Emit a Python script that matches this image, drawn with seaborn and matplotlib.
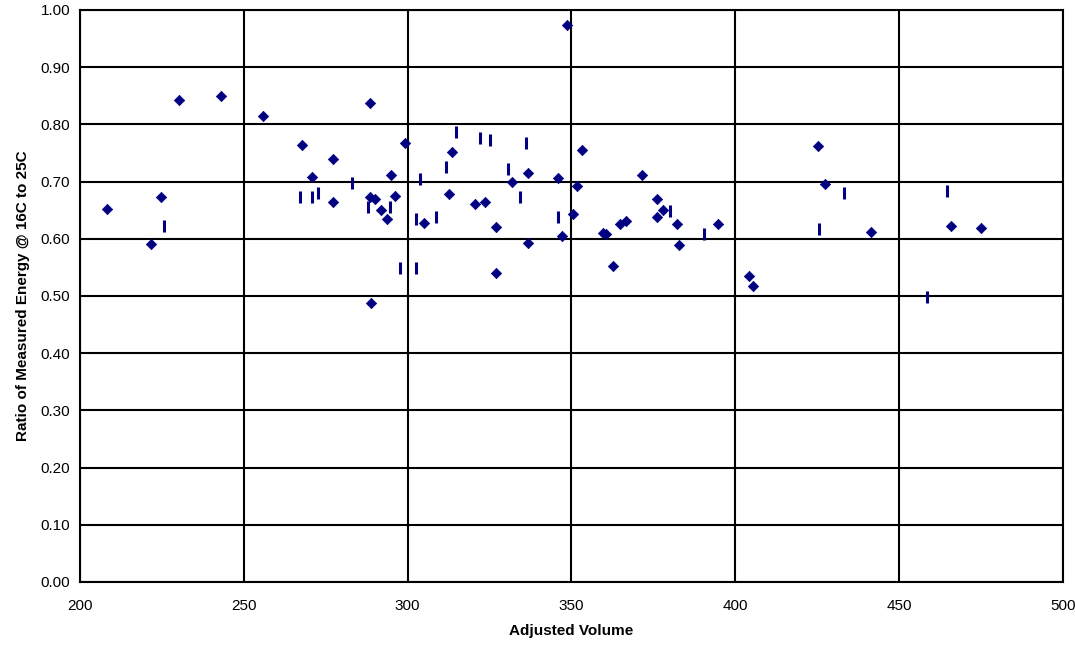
import matplotlib
matplotlib.use("Agg")
import matplotlib.pyplot as plt
import seaborn as sns
import pandas as pd

# Diamond series
diamond_x = [208.1, 221.6, 224.6, 230.1, 243.1, 255.8, 267.7, 270.8, 277.2, 277.2,
             288.5, 288.9, 288.5, 290.0, 296.1, 291.9, 293.6, 294.9, 299.2, 305.0,
             313.6, 312.6, 320.5, 323.5, 326.9, 326.9, 331.7, 336.7, 336.7, 345.9,
             347.2, 348.6, 350.4, 351.8, 353.3, 359.7, 360.4, 362.7, 364.8, 366.5,
             371.6, 376.2, 376.2, 378.0, 382.1, 382.8, 394.8, 404.1, 405.5, 425.1,
             427.3, 441.5, 465.8, 475.0]
diamond_y = [0.652, 0.591, 0.673, 0.843, 0.850, 0.815, 0.764, 0.708, 0.740, 0.665,
             0.838, 0.487, 0.673, 0.669, 0.674, 0.650, 0.635, 0.712, 0.767, 0.628,
             0.751, 0.678, 0.661, 0.664, 0.620, 0.540, 0.699, 0.715, 0.593, 0.706,
             0.605, 0.974, 0.644, 0.692, 0.755, 0.610, 0.608, 0.553, 0.626, 0.631,
             0.712, 0.669, 0.638, 0.650, 0.626, 0.590, 0.625, 0.535, 0.518, 0.763,
             0.696, 0.612, 0.623, 0.618]

# Vertical-dash series
dash_x = [267.1, 270.9, 272.6, 225.7, 283.1, 288.0, 294.6, 297.7, 302.6, 302.6,
          303.8, 308.7, 311.8, 314.8, 322.2, 325.2, 330.7, 334.4, 336.2, 346.0,
          380.1, 390.5, 425.4, 433.3, 458.4, 464.5]
dash_y = [0.673, 0.673, 0.680, 0.623, 0.697, 0.655, 0.655, 0.549, 0.549, 0.634,
          0.704, 0.638, 0.725, 0.787, 0.777, 0.773, 0.722, 0.673, 0.767, 0.638,
          0.648, 0.609, 0.617, 0.680, 0.498, 0.683]

x_ticks = [200, 250, 300, 350, 400, 450, 500]
y_ticks = [0.0, 0.1, 0.2, 0.3, 0.4, 0.5, 0.6, 0.7, 0.8, 0.9, 1.0]

sns.set_style("white")
plt.rcParams['font.family'] = ['Liberation Sans', 'DejaVu Sans']
plt.rcParams['axes.labelcolor'] = 'black'
plt.rcParams['text.color'] = 'black'

fig = plt.figure(figsize=(10.75, 6.45), dpi=100)
ax = fig.add_axes([0.0744, 0.0977, 0.9144, 0.8868])

color = "#000080"
df_d = pd.DataFrame({"x": diamond_x, "y": diamond_y})
df_v = pd.DataFrame({"x": dash_x, "y": dash_y})
sns.scatterplot(data=df_d, x="x", y="y", marker="D", s=28, color=color,
                edgecolor=color, linewidth=0.5, ax=ax, zorder=3)
sns.scatterplot(data=df_v, x="x", y="y", marker="|", s=70, color=color,
                linewidth=2.2, ax=ax, zorder=3)

ax.set_xlim(200, 500)
ax.set_ylim(0, 1.0)
ax.set_xticks(x_ticks)
ax.set_xticklabels([str(v) for v in x_ticks])
ax.set_yticks(y_ticks)
ax.set_yticklabels([f"{v:.2f}" for v in y_ticks])
ax.grid(True, color="black", linewidth=1.5)
ax.set_axisbelow(True)
for s in ax.spines.values():
    s.set_visible(True)
    s.set_color("black")
    s.set_linewidth(1.5)
ax.tick_params(axis="both", direction="out", length=4, width=1.2,
               labelsize=11, colors="black", pad=3)
ax.tick_params(axis="x", pad=8)
ax.set_xlabel("Adjusted Volume", fontsize=11, fontweight="bold", labelpad=8,
              color="black")
ax.set_ylabel("Ratio of Measured Energy @ 16C to 25C", fontsize=11,
              fontweight="bold", labelpad=8, color="black")

fig.savefig("out.png", dpi=100, facecolor="white")
